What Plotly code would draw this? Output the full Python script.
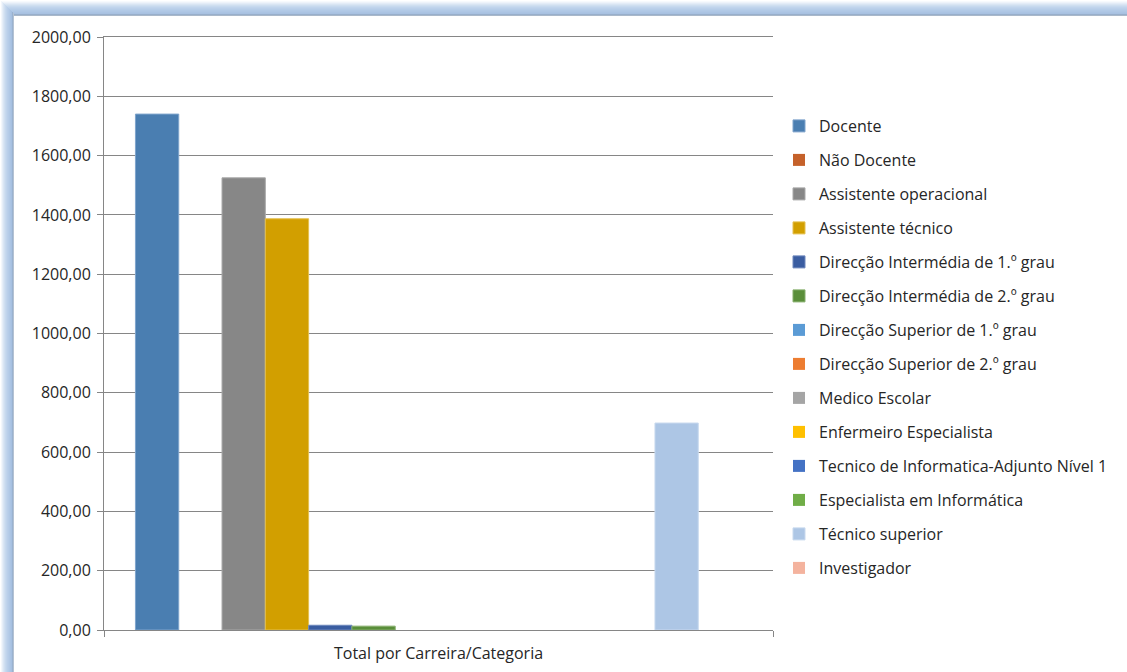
import plotly.graph_objects as go

# Single category, one bar per career group
category = ["Total por Carreira/Categoria"]

series_names = [
    "Docente",
    "Não Docente",
    "Assistente operacional",
    "Assistente técnico",
    "Direcção Intermédia de 1.º grau",
    "Direcção Intermédia de 2.º grau",
    "Direcção Superior de 1.º grau",
    "Direcção Superior de 2.º grau",
    "Medico Escolar",
    "Enfermeiro Especialista",
    "Tecnico de Informatica-Adjunto Nível 1",
    "Especialista em Informática",
    "Técnico superior",
    "Investigador",
]

series_values = [1740, 0, 1525, 1387, 16, 13, 0, 0, 0, 0, 0, 0, 698, 0]

series_colors = [
    "#4A7EB1", "#C5612A", "#878787", "#D29F00", "#3A5DA1", "#5A8E3A",
    "#5B9BD5", "#ED7D31", "#A5A5A5", "#FFC000", "#4472C4", "#70AD47",
    "#ADC6E5", "#F4B39E",
]

series_edges = [
    "#7FA4CC", "#DB9068", "#A9A9A9", "#E5C050", "#6E88BC", "#86AE6C",
    "#8DBAE4", "#F3A56E", "#C3C3C3", "#FFD560", "#7A9BD6", "#9CC67F",
    "#C8D9EE", "#F8CDBE",
]

y_ticks = [0, 200, 400, 600, 800, 1000, 1200, 1400, 1600, 1800, 2000]
y_tick_text = [f"{v:.2f}".replace(".", ",") for v in y_ticks]

FONT = "Open Sans"
FS = 16
W, H = 1127, 672
L, R, T, B = 104, 354, 37, 42

fig = go.Figure()
for name, val, col, edge in zip(series_names, series_values, series_colors, series_edges):
    fig.add_trace(go.Bar(
        x=category, y=[val], name=name, legendgroup=name,
        marker=dict(color=col, line=dict(color=edge, width=1 if val else 0)),
    ))

# Blue glow along the top and left edges of the chart frame
pw, ph = W - L - R, H - T - B


def px_x(v):
    return (v - L) / pw


def px_y(v):
    return (H - B - v) / ph


shapes = []
top_cols = ["#FFFFFF", "#F7FAFD", "#EEF3FA", "#E3ECF7", "#D9E5F3", "#CFDFF0",
            "#C7D9EE", "#C0D4EC", "#BBD0EA", "#B6CDE8", "#B2CAE7", "#AFC7E5",
            "#ABC4E3", "#A8C1E1", "#98AFCB", "#A9B8CA"]
for i, c in enumerate(top_cols):
    shapes.append(dict(type="rect", xref="paper", yref="paper",
                       x0=px_x(min(i, 13)), x1=px_x(W), y0=px_y(i + 1), y1=px_y(i),
                       fillcolor=c, line=dict(width=0), layer="below"))
left_cols = ["#FFFFFF", "#F3F7FC", "#E6EEF8", "#DAE6F4", "#D0DFF1", "#C7D9EE",
             "#C0D4EC", "#BACFEA", "#B5CCE8", "#B0C8E6", "#ABC4E3", "#A6C0E1",
             "#9AB2CF", "#B4C2D3"]
for i, c in enumerate(left_cols):
    shapes.append(dict(type="rect", xref="paper", yref="paper",
                       x0=px_x(i), x1=px_x(i + 1), y0=px_y(H), y1=px_y(min(i, 15)),
                       fillcolor=c, line=dict(width=0), layer="below"))

fig.update_layout(
    width=W, height=H,
    margin=dict(l=L, r=R, t=T, b=B, pad=0, autoexpand=False),
    paper_bgcolor="white", plot_bgcolor="white",
    barmode="group", bargap=0.094, bargroupgap=0,
    font=dict(family=FONT, size=FS, color="#262626"),
    showlegend=True,
    legend=dict(
        x=px_x(779), xanchor="left", y=px_y(109), yanchor="top",
        font=dict(family=FONT, size=FS, color="#262626"),
        tracegroupgap=10.2, bgcolor="rgba(0,0,0,0)", borderwidth=0,
        traceorder="grouped",
    ),
    shapes=shapes,
    xaxis=dict(
        showline=True, linecolor="#868686", linewidth=1, mirror=True,
        ticks="outside", tickson="boundaries", ticklen=6, tickcolor="#868686",
        showgrid=False, ticklabelstandoff=9, automargin=False,
        tickfont=dict(family=FONT, size=FS, color="#262626"),
    ),
    yaxis=dict(
        range=[0, 2000], tickvals=y_ticks, ticktext=y_tick_text,
        showline=True, linecolor="#868686", linewidth=1,
        ticks="outside", ticklen=6, tickcolor="#868686",
        showgrid=True, gridcolor="#868686", gridwidth=1,
        zeroline=False, ticklabelstandoff=3, automargin=False,
        tickfont=dict(family=FONT, size=FS, color="#262626"),
    ),
)

fig.write_html("out.html")
